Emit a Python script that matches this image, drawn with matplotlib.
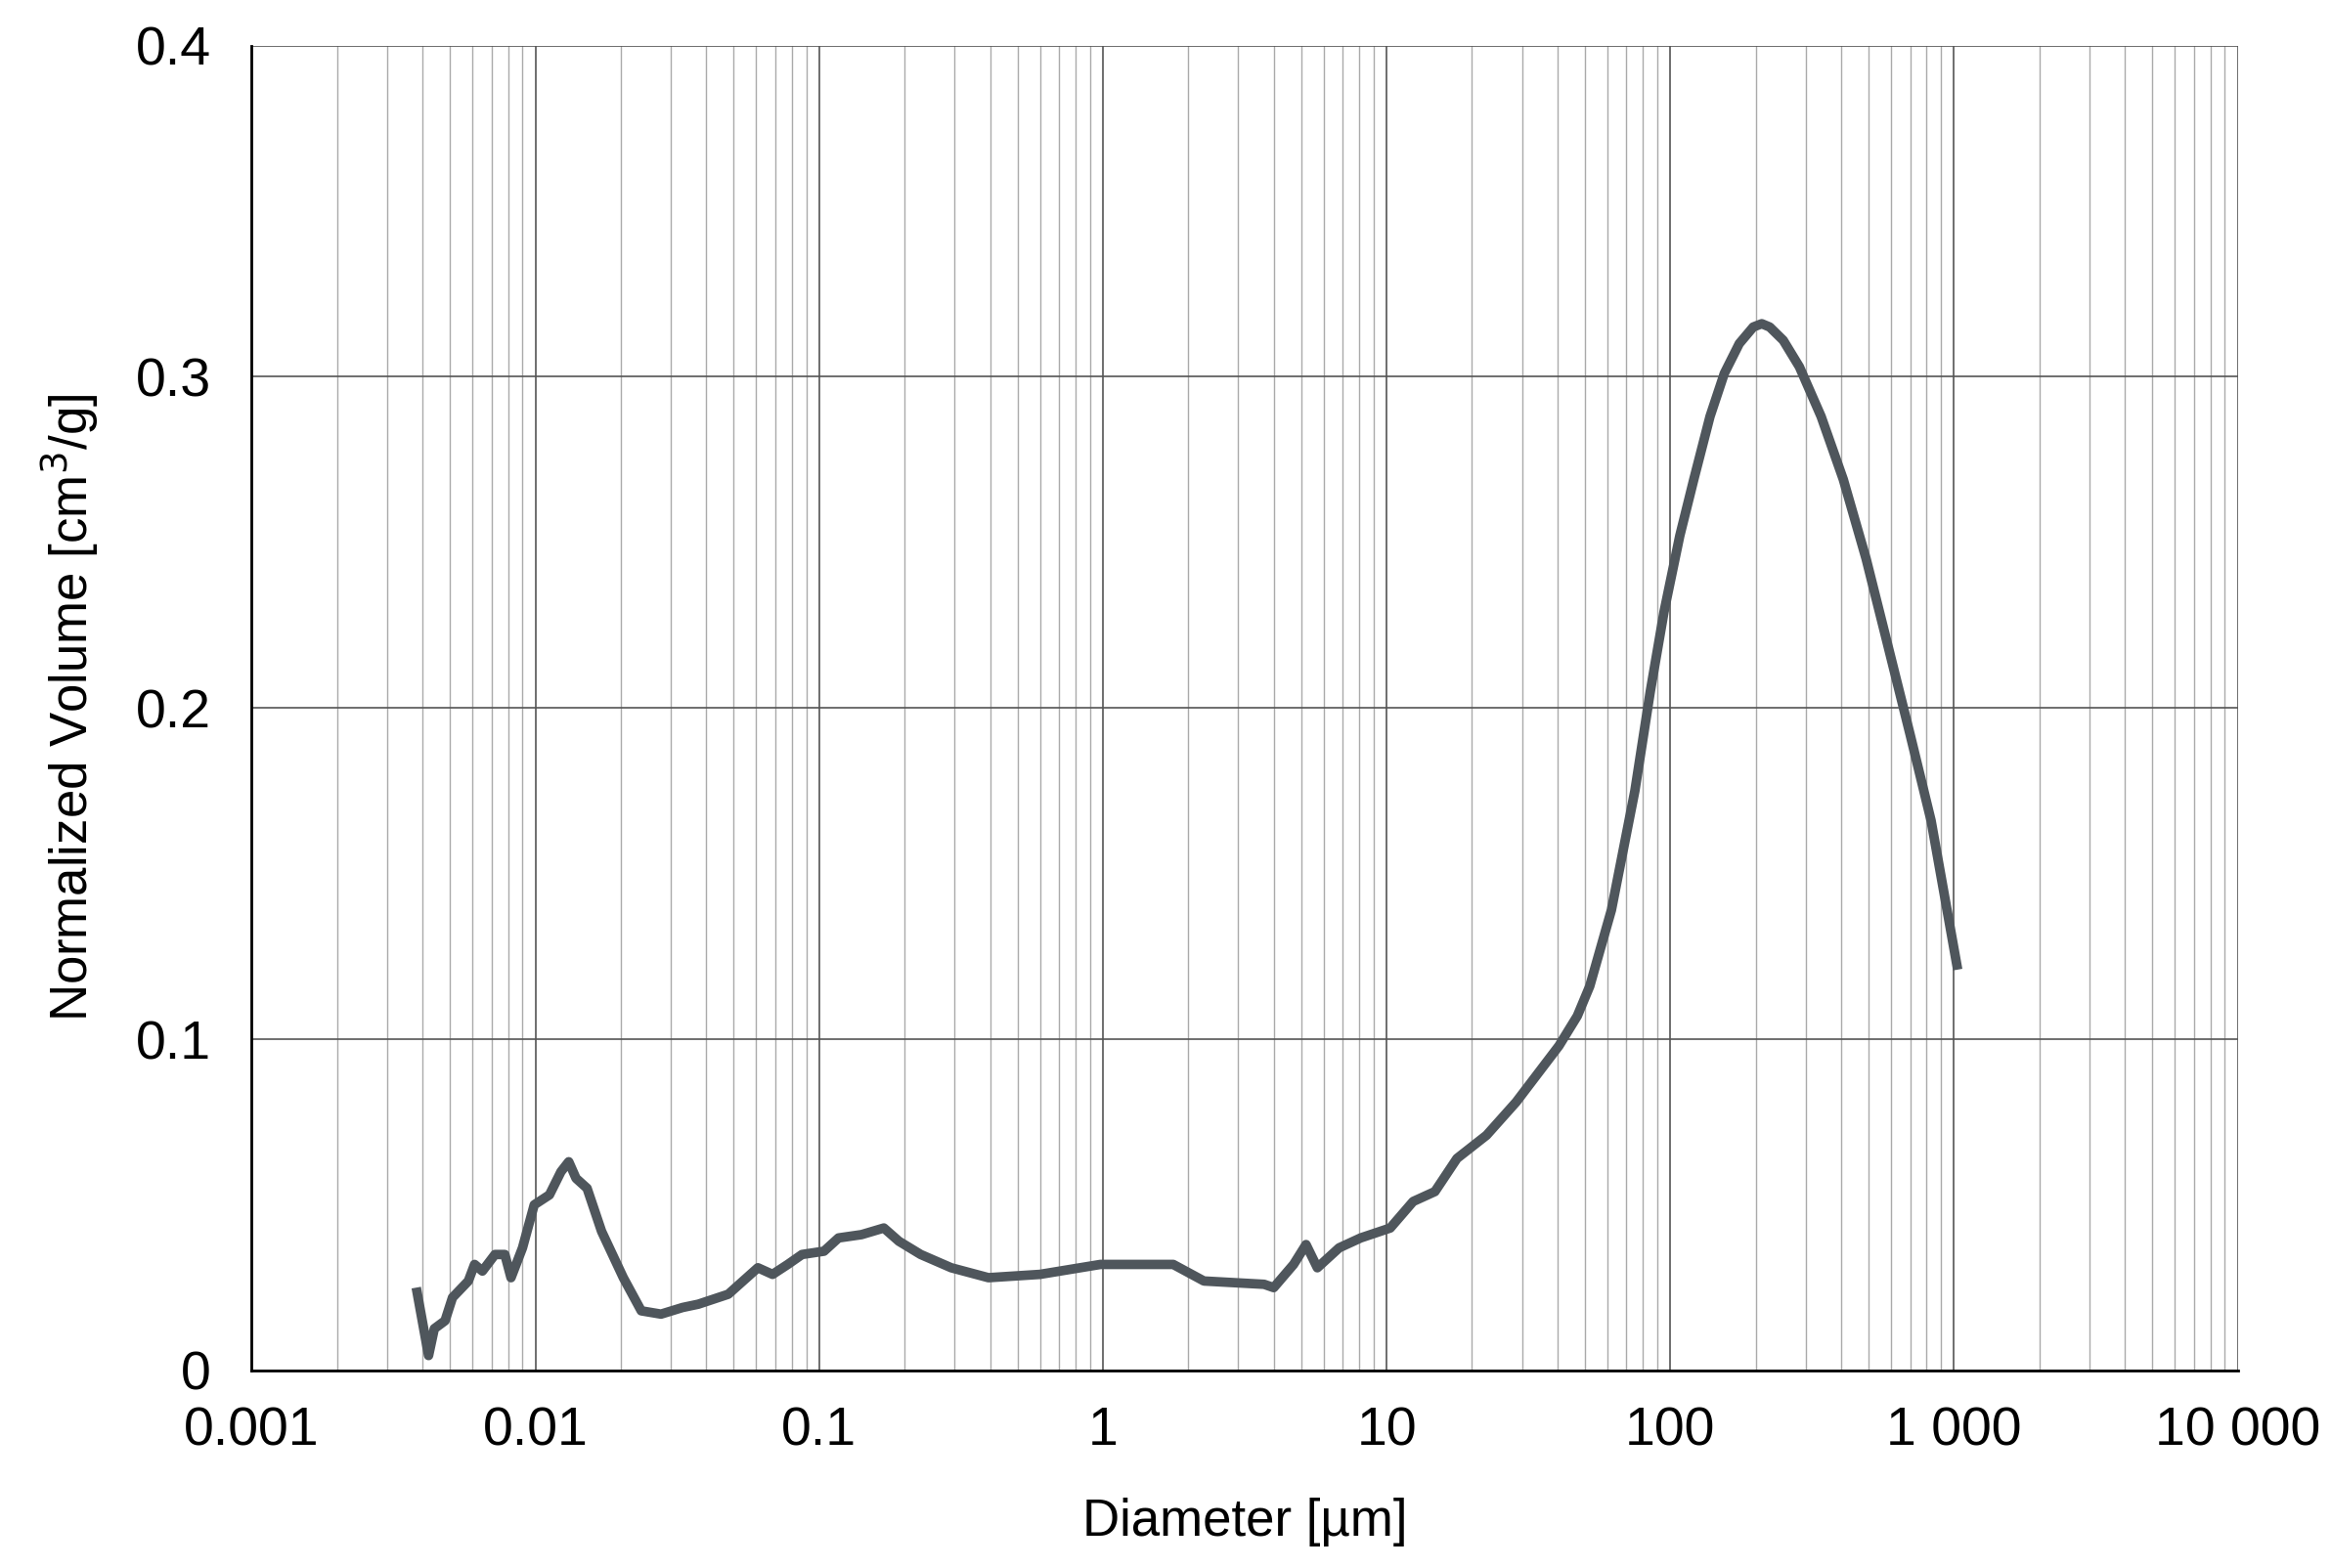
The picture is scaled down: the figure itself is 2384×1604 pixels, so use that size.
import numpy as np
import matplotlib.pyplot as plt
from matplotlib.ticker import FixedLocator, LogLocator, FuncFormatter, NullFormatter

# -------------------------------
# Data
# -------------------------------
diameter_um = [0.0038, 0.0042, 0.0044, 0.0048, 0.0051, 0.0058, 0.0061, 0.0065, 0.0072,
               0.0078, 0.0082, 0.0090, 0.0099, 0.0112, 0.0123, 0.0131, 0.0139, 0.0152,
               0.0171, 0.0204, 0.0236, 0.0277, 0.0330, 0.0375, 0.0478, 0.0608, 0.0685,
               0.0775, 0.0870, 0.104, 0.117, 0.141, 0.169, 0.191, 0.228, 0.292, 0.395,
               0.60, 0.98, 1.77, 2.27, 3.7, 4.0, 4.7, 5.2, 5.7, 6.8, 8.1, 10.3, 12.4,
               14.8, 17.7, 22.5, 28.6, 40.5, 47, 52, 62, 75, 85, 95, 108, 121, 138, 155,
               175, 196, 210, 224, 250, 285, 340, 407, 490, 580, 700, 830, 1030]
norm_volume = [0.025, 0.0045, 0.0126, 0.015, 0.022, 0.027, 0.032, 0.030, 0.035,
               0.035, 0.028, 0.037, 0.050, 0.053, 0.060, 0.063, 0.058, 0.055,
               0.042, 0.028, 0.018, 0.017, 0.019, 0.020, 0.023, 0.031, 0.029,
               0.032, 0.035, 0.036, 0.040, 0.041, 0.043, 0.039, 0.035, 0.031, 0.028,
               0.029, 0.032, 0.032, 0.027, 0.026, 0.025, 0.032, 0.038, 0.031, 0.037,
               0.040, 0.043, 0.051, 0.054, 0.064, 0.071, 0.081, 0.098, 0.107, 0.116,
               0.139, 0.175, 0.205, 0.229, 0.252, 0.269, 0.288, 0.301, 0.310, 0.315,
               0.316, 0.315, 0.311, 0.303, 0.288, 0.269, 0.245, 0.220, 0.192, 0.166,
               0.121]

x_ticks = [0.001, 0.01, 0.1, 1, 10, 100, 1000, 10000]
x_labels = ["0.001", "0.01", "0.1", "1", "10", "100", "1 000", "10 000"]
y_ticks = [0, 0.1, 0.2, 0.3, 0.4]
y_labels = ["0", "0.1", "0.2", "0.3", "0.4"]

# -------------------------------
# Plot
# -------------------------------
plt.rcParams['font.family'] = ['Liberation Sans', 'DejaVu Sans']
fig = plt.figure(figsize=(23.84, 16.04), dpi=100)
ax = fig.add_axes([0.108, 0.126, 0.852, 0.845])

ax.plot(diameter_um, norm_volume, color="#4f565c", lw=7, solid_capstyle="butt",
        solid_joinstyle="round")

ax.set_xscale("log")
ax.set_xlim(0.001, 10000)
ax.set_ylim(0, 0.4)
ax.xaxis.set_major_locator(FixedLocator(x_ticks))
ax.xaxis.set_major_formatter(FuncFormatter(lambda v, p: x_labels[x_ticks.index(v)] if v in x_ticks else ""))
ax.xaxis.set_minor_locator(LogLocator(base=10, subs=np.arange(2, 10), numticks=100))
ax.xaxis.set_minor_formatter(NullFormatter())
ax.set_yticks(y_ticks)
ax.set_yticklabels(y_labels)

ax.grid(True, which="major", color="#555555", lw=1.2)
ax.grid(True, which="minor", axis="x", color="#aaaaaa", lw=1.0)
ax.set_axisbelow(True)
ax.tick_params(axis="x", which="both", length=0, labelsize=40, pad=26)
ax.tick_params(axis="y", which="both", length=0, labelsize=40, pad=30)
for s in ("top", "right"):
    ax.spines[s].set_visible(False)
for s in ("left", "bottom"):
    ax.spines[s].set_linewidth(2)

ax.set_xlabel("Diameter [µm]", fontsize=38, labelpad=30)
ax.set_ylabel("Normalized Volume [cm$^3$/g]", fontsize=38, labelpad=26)

fig.savefig("out.png", dpi=100)
